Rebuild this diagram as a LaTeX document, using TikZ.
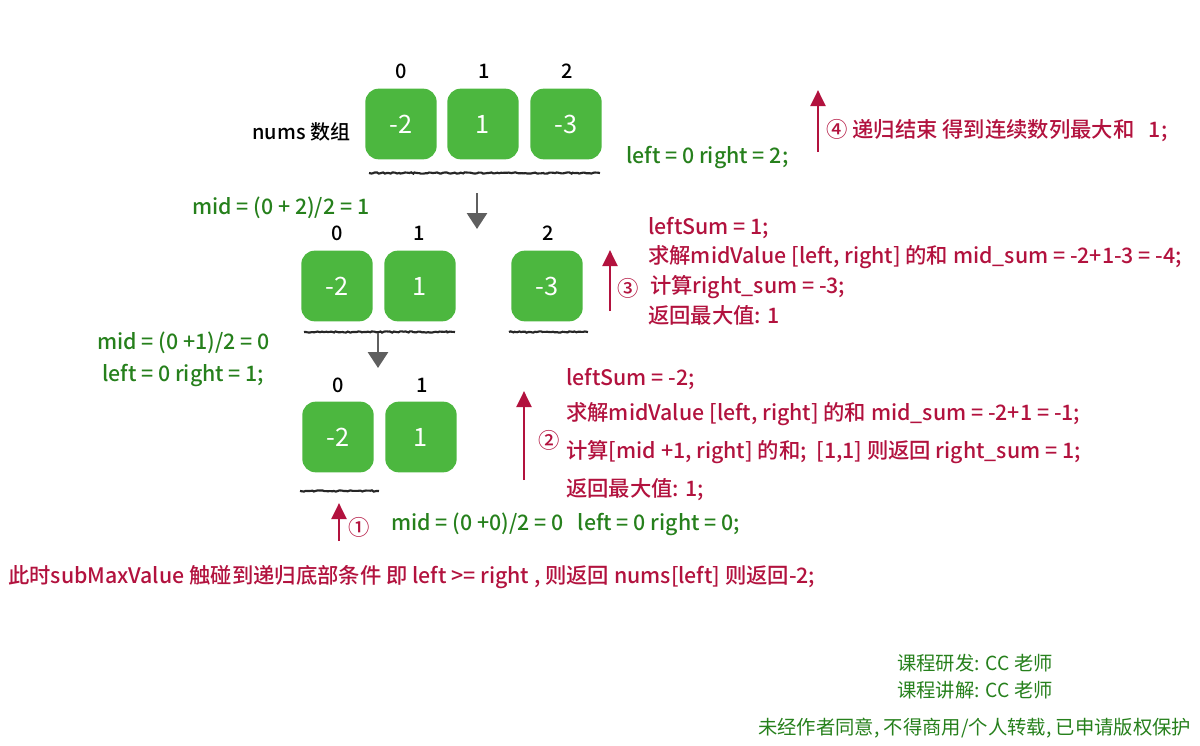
\documentclass[tikz,border=0pt]{standalone}
\usepackage{fontspec}
\setmainfont{Noto Sans CJK SC}[BoldFont={Noto Sans CJK SC Medium}]
\usetikzlibrary{arrows.meta,decorations.pathmorphing}
\definecolor{boxgreen}{RGB}{76,183,63}
\definecolor{tgreen}{RGB}{38,128,28}
\definecolor{tred}{RGB}{178,18,62}
\definecolor{agray}{RGB}{95,95,95}
\tikzset{
  cell/.style={fill=boxgreen, rounded corners=10pt, minimum width=53.5pt, minimum height=53pt, text=white, font=\fontsize{19}{19}\selectfont, inner sep=0pt},
  idx/.style={text=black, font=\bfseries\fontsize{15}{15}\selectfont, inner sep=0pt},
  lbl/.style={anchor=west, text=black, font=\bfseries\fontsize{15}{15}\selectfont, inner sep=0pt},
  gtxt/.style={anchor=west, text=tgreen, font=\bfseries\fontsize{16}{16}\selectfont, inner sep=0pt},
  rtxt/.style={anchor=west, text=tred, font=\bfseries\fontsize{16}{16}\selectfont, inner sep=0pt},
  foot/.style={anchor=west, text=tgreen, font=\fontsize{14.5}{14.5}\selectfont, inner sep=0pt},
  squig/.style={draw=black!85, line width=1.6pt, decorate, decoration={random steps, segment length=1.5pt, amplitude=0.5pt}},
  garrow/.style={draw=agray, line width=2.2pt, -{Triangle[width=15pt,length=12pt]}},
  rarrow/.style={draw=tred, line width=2.2pt, -{Triangle[width=11pt,length=12pt]}},
}
\begin{document}
\begin{tikzpicture}[x=0.75pt,y=-0.75pt]
\useasboundingbox (0,0) rectangle (1200,746);

% ---- row 1
\node[cell] (a0) at (401,124) {-2};
\node[cell] (a1) at (483,124) {1};
\node[cell] (a2) at (566,124) {-3};
\node[idx] (i0) at (401,71) {0};
\node[idx] (i1) at (484,71) {1};
\node[idx] (i2) at (567,71) {2};
\node[lbl] (nums) at (252,132) {nums 数组};
\coordinate (u1a) at (369,173);
\coordinate (u1b) at (600,173);
\draw[squig] (u1a) -- (u1b);
\coordinate (g1a) at (477,193);
\coordinate (g1b) at (477,229);
\draw[garrow] (g1a) -- (g1b);
\node[gtxt] (lr1) at (626,157) {left = 0 right = 2;};
\coordinate (r4a) at (818,152);
\coordinate (r4b) at (818,90);
\draw[rarrow] (r4a) -- (r4b);
\node[rtxt] (t4) at (826,131) {④ 递归结束 得到连续数列最大和\ \ \ 1;};

\node[gtxt] (mid1) at (192,208) {mid = (0 + 2)/2 = 1};

% ---- row 2
\node[cell] (b0) at (337,286) {-2};
\node[cell] (b1) at (420,286) {1};
\node[cell] (b2) at (547,286) {-3};
\node[idx] (j0) at (337,233) {0};
\node[idx] (j1) at (419,233) {1};
\node[idx] (j2) at (548,233) {2};
\coordinate (u2a) at (304,332);
\coordinate (u2b) at (455,332);
\draw[squig] (u2a) -- (u2b);
\coordinate (u3a) at (509,332);
\coordinate (u3b) at (588,332);
\draw[squig] (u3a) -- (u3b);
\coordinate (g2a) at (378,333);
\coordinate (g2b) at (378,368);
\draw[garrow] (g2a) -- (g2b);
\coordinate (r3a) at (610,311);
\coordinate (r3b) at (610,250);
\draw[rarrow] (r3a) -- (r3b);
\node[rtxt] (c3) at (617,288) {③};
\node[rtxt] (s3a) at (648,228) {leftSum = 1;};
\node[rtxt] (s3b) at (648,257) {求解midValue [left, right] 的和 mid\_sum = -2+1-3 = -4;};
\node[rtxt] (s3c) at (650,287) {计算right\_sum = -3;};
\node[rtxt] (s3d) at (648,315) {返回最大值: 1};

\node[gtxt] (mid2) at (97,343) {mid = (0 +1)/2 = 0};
\node[gtxt] (lr2) at (102,375) {left = 0 right = 1;};

% ---- row 3
\node[cell] (c0) at (338,437) {-2};
\node[cell] (c1) at (421,437) {1};
\node[idx] (k0) at (338,385) {0};
\node[idx] (k1) at (422,385) {1};
\coordinate (u4a) at (300,491);
\coordinate (u4b) at (379,491);
\draw[squig] (u4a) -- (u4b);
\coordinate (r2a) at (524,480);
\coordinate (r2b) at (524,391);
\draw[rarrow] (r2a) -- (r2b);
\node[rtxt] (c2) at (538,440) {②};
\node[rtxt] (s2a) at (566,379) {leftSum = -2;};
\node[rtxt] (s2b) at (566,414) {求解midValue [left, right] 的和 mid\_sum = -2+1 = -1;};
\node[rtxt] (s2c) at (566,452) {计算[mid +1, right] 的和;\ \ [1,1] 则返回 right\_sum = 1;};
\node[rtxt] (s2d) at (566,490) {返回最大值: 1;};

% ---- bottom
\coordinate (r1a) at (339,541);
\coordinate (r1b) at (339,503);
\draw[rarrow] (r1a) -- (r1b);
\node[rtxt] (c1n) at (348,527) {①};
\node[gtxt] (mid3) at (391,524) {mid = (0 +0)/2 = 0\ \ \ left = 0 right = 0;};
\node[rtxt] (base) at (8,577) {此时subMaxValue 触碰到递归底部条件 即 left >= right , 则返回 nums[left] 则返回-2;};

% ---- footer
\node[foot] (f1) at (897,663) {课程研发: CC 老师};
\node[foot] (f2) at (897,690) {课程讲解: CC 老师};
\node[foot] (f3) at (758,728) {未经作者同意, 不得商用/个人转载, 已申请版权保护};
\end{tikzpicture}
\end{document}
